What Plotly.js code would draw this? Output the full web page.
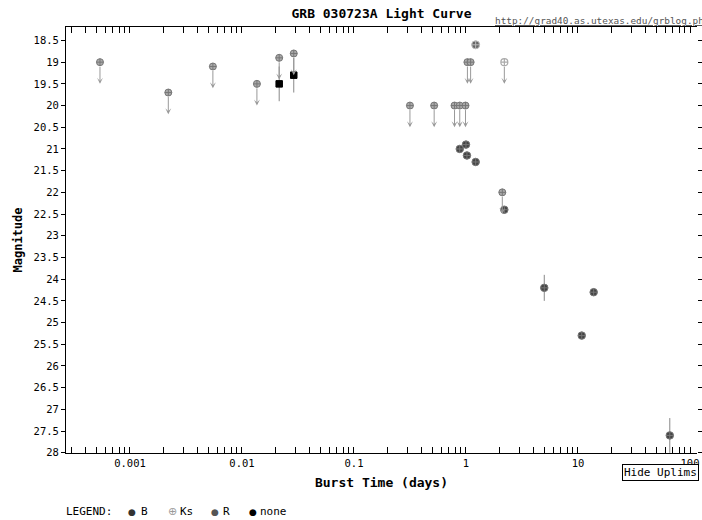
<!DOCTYPE html>
<html><head><meta charset="utf-8">
<script src="https://cdn.plot.ly/plotly-3.0.1.min.js"></script>
<style>html,body{margin:0;padding:0;background:#fff}#chart{width:702px;height:520px}</style>
</head><body><div id="chart"></div>
<script>
// ---- data (days since burst, magnitude) ----
const rDetDays = [0.88, 1.0, 1.02, 1.22, 2.2, 5.0, 10.8, 13.8, 66];
const rDetMag  = [21.0, 20.9, 21.15, 21.3, 22.4, 24.2, 25.3, 24.3, 27.6];
const rDetErr  = [0, 0, 0, 0, 0, 0.3, 0, 0, 0.4];

const rUlDays = [0.00054, 0.0022, 0.0055, 0.0136, 0.0215, 0.029, 0.316, 0.52, 0.79, 0.88, 0.99, 1.03, 1.1, 2.11];
const rUlMag  = [19.0, 19.7, 19.1, 19.5, 18.9, 18.8, 20.0, 20.0, 20.0, 20.0, 20.0, 19.0, 19.0, 22.0];

const ksDetDays = [1.22];
const ksDetMag  = [18.6];
const ksUlDays  = [2.2];
const ksUlMag   = [19.0];

const noneDays = [0.0215, 0.029];
const noneMag  = [19.5, 19.3];
const noneErr  = [0.4, 0.4];

const legendNames = ['B', 'Ks', 'R', 'none'];

// ---- styles ----
const MONO = 'DejaVu Sans Mono';
const ulLen = 0.5;
const yRange = [28.005, 18.19];
const xRange = [-3.571, 2.0625];
const M = {l: 66, r: 5, t: 27, b: 67};
const W = 702, H = 520;
const plotW = W - M.l - M.r, plotH = H - M.t - M.b;
const px2paperX = px => (px - M.l) / plotW;
const py2paperY = py => (H - M.b - py) / plotH;

// legend look (glyph, colour, size) and placement (pixels)
const legendGlyph = ['\u25CF', '\u2295', '\u25CF', '\u25CF'];
const legendColor = ['#333', '#999', '#555', '#000'];
const legendGlyphSize = [9, 11, 9, 9];
const legendSymX = [132, 172, 215, 253];
const legendTxtX = [139, 178, 221, 258];
const legendY = 512;

const traces = [
  {x: ksUlDays, y: ksUlMag, type: 'scatter', mode: 'markers', showlegend: false,
   marker: {symbol: 'circle-cross-open', size: 7, color: '#aaa', line: {color: '#aaa', width: 1.2}}},
  {x: ksDetDays, y: ksDetMag, type: 'scatter', mode: 'markers', showlegend: false,
   marker: {symbol: 'circle-cross', size: 8, color: '#666', line: {color: '#bbb', width: 1}}},
  {x: rUlDays, y: rUlMag, type: 'scatter', mode: 'markers', showlegend: false,
   marker: {symbol: 'circle-cross', size: 7, color: '#aaa', line: {color: '#777', width: 1}}},
  {x: rDetDays, y: rDetMag, type: 'scatter', mode: 'markers', showlegend: false,
   error_y: {type: 'data', array: rDetErr, visible: true, color: '#888', thickness: 1, width: 0},
   marker: {symbol: 'circle-cross', size: 7.5, color: '#444', line: {color: '#777', width: 1}}},
  {x: noneDays, y: noneMag, type: 'scatter', mode: 'markers', showlegend: false,
   error_y: {type: 'data', array: noneErr, visible: true, color: '#888', thickness: 1, width: 0},
   marker: {symbol: 'square', size: 6.5, color: '#000', line: {color: '#000', width: 1}}},
  {x: [], y: [], yaxis: 'y2', type: 'scatter', mode: 'markers', showlegend: false, hoverinfo: 'skip'},
  {x: [], y: [], xaxis: 'x2', type: 'scatter', mode: 'markers', showlegend: false, hoverinfo: 'skip'}
];

// upper-limit arrows
const annotations = [];
const ulDays = rUlDays.concat(ksUlDays);
const ulMag = rUlMag.concat(ksUlMag);
ulDays.forEach((t, i) => {
  const lx = Math.log10(t);
  annotations.push({
    x: lx, y: ulMag[i] + ulLen, ax: lx, ay: ulMag[i],
    xref: 'x', yref: 'y', axref: 'x', ayref: 'y',
    showarrow: true, arrowhead: 3, arrowsize: 1, arrowwidth: 1,
    arrowcolor: '#999', startstandoff: 3, text: ''
  });
});

annotations.push({
  xref: 'paper', yref: 'paper', x: px2paperX(493), y: py2paperY(20), xanchor: 'left', yanchor: 'middle',
  showarrow: false,
  text: '<span style="text-decoration:underline">http://grad40.as.utexas.edu/grblog.php</span>',
  font: {family: MONO, size: 9.4, color: '#555'}
});
annotations.push({
  xref: 'paper', yref: 'paper', x: px2paperX(621.5), y: py2paperY(472.5), xanchor: 'left', yanchor: 'middle',
  showarrow: false, text: 'Hide Uplims',
  font: {family: MONO, size: 11, color: '#000'},
  bordercolor: '#000', borderwidth: 1, borderpad: 1, bgcolor: '#fff'
});
annotations.push({
  xref: 'paper', yref: 'paper', x: px2paperX(64), y: py2paperY(legendY), xanchor: 'left', yanchor: 'middle',
  showarrow: false, text: 'LEGEND:',
  font: {family: MONO, size: 11, color: '#000'}
});
legendNames.forEach((nm, i) => {
  annotations.push({
    xref: 'paper', yref: 'paper', x: px2paperX(legendSymX[i]), y: py2paperY(legendY),
    xanchor: 'center', yanchor: 'middle', showarrow: false,
    text: legendGlyph[i], font: {family: 'DejaVu Sans', size: legendGlyphSize[i], color: legendColor[i]}
  });
  annotations.push({
    xref: 'paper', yref: 'paper', x: px2paperX(legendTxtX[i]), y: py2paperY(legendY),
    xanchor: 'left', yanchor: 'middle', showarrow: false,
    text: nm, font: {family: MONO, size: 11, color: '#000'}
  });
});

const tickStyle = {ticklen: 6, tickcolor: '#000', tickwidth: 1};

const layout = {
  width: W, height: H,
  margin: M,
  paper_bgcolor: '#fff', plot_bgcolor: '#fff',
  showlegend: false,
  title: {text: '<b>GRB 030723A Light Curve</b>', font: {family: MONO, size: 13, color: '#000'},
          x: 0.5, xref: 'paper', xanchor: 'center', y: 0.975, yref: 'container', yanchor: 'middle'},
  xaxis: Object.assign({
    type: 'log', range: xRange, dtick: 1,
    showline: true, linecolor: '#000', linewidth: 1, mirror: true,
    ticks: 'inside',
    minor: Object.assign({ticks: 'inside', dtick: 'D1', showgrid: false}, tickStyle),
    showgrid: false, zeroline: false,
    tickfont: {family: MONO, size: 10.5, color: '#000'},
    title: {text: '<b>Burst Time (days)</b>', font: {family: MONO, size: 13, color: '#000'}, standoff: 10}
  }, tickStyle),
  xaxis2: Object.assign({
    type: 'log', range: xRange, dtick: 1, overlaying: 'x', side: 'top',
    showline: false, ticks: 'inside', showticklabels: false,
    minor: Object.assign({ticks: 'inside', dtick: 'D1', showgrid: false}, tickStyle),
    showgrid: false, zeroline: false
  }, tickStyle),
  yaxis: {
    range: yRange, dtick: 0.5, tick0: 0,
    showline: true, linecolor: '#000', linewidth: 1, mirror: false,
    ticks: 'outside', ticklen: 4, tickcolor: '#000', tickwidth: 1,
    showgrid: false, zeroline: false,
    tickfont: {family: MONO, size: 10.5, color: '#000'},
    title: {text: '<b>Magnitude</b>', font: {family: MONO, size: 12, color: '#000'}, standoff: 8}
  },
  yaxis2: {
    overlaying: 'y', side: 'right', range: yRange, dtick: 0.5, tick0: 0,
    showline: false, ticks: 'outside', ticklen: 4, tickcolor: '#000', tickwidth: 1,
    showticklabels: false, showgrid: false, zeroline: false
  },
  annotations: annotations
};

Plotly.newPlot('chart', traces, layout, {displayModeBar: false, staticPlot: true});
</script></body></html>
